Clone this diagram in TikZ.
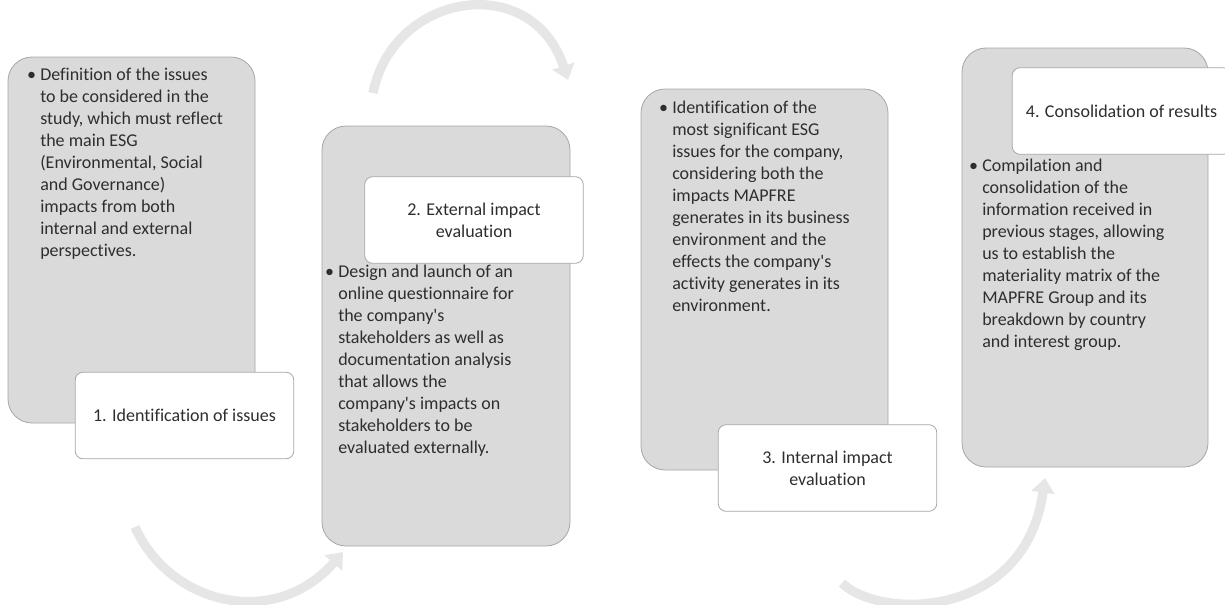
\documentclass[tikz,border=0pt]{standalone}
\usepackage{fontspec}
\setmainfont{Carlito}[Ligatures=NoCommon]
\usetikzlibrary{arrows.meta}
\definecolor{boxfill}{HTML}{DADADA}
\definecolor{boxline}{HTML}{A6A6A6}
\definecolor{arrowgray}{HTML}{E6E6E6}
\definecolor{txt}{HTML}{2E2E2E}
\tikzset{
  x=0.75pt, y=-0.75pt,
  graybox/.style={draw=boxline, line width=0.6pt, fill=boxfill, rounded corners=18pt, inner sep=0pt},
  labelbox/.style={draw=boxline, line width=0.6pt, fill=white, rounded corners=6pt, inner sep=0pt,
    minimum width=164pt, minimum height=65pt, align=center, text=txt},
  bodytext/.style={anchor=north west, inner sep=0pt, align=left, text=txt},
  curvearrow/.style={draw=arrowgray, line width=7pt, -{Triangle[width=17pt,length=11pt]}},
  every node/.style={font=\fontsize{13.5}{16.5}\selectfont}
}
\newcommand{\bul}{\llap{\textbullet\hspace{3.2pt}}}
\newcommand{\ap}{\textquotesingle}
\begin{document}
\begin{tikzpicture}
\useasboundingbox (0,0) rectangle (1225,604);
% curved arrows (behind)
\coordinate (a1s) at (135,527);
\coordinate (a1e) at (343,552);
\coordinate (a2s) at (373,93);
\coordinate (a2e) at (568,80);
\coordinate (a3s) at (842,583);
\coordinate (a3e) at (1045,478);
\draw[curvearrow] (a1s) .. controls (170,605) and (275,630) .. (a1e);
\draw[curvearrow] (a2s) .. controls (393,-8) and (532,-30) .. (a2e);
\draw[curvearrow] (a3s) .. controls (880,620) and (1025,620) .. (a3e);
% gray boxes
\node[graybox, minimum width=185.25pt, minimum height=274.5pt] (b1) at (131.5,240) {};
\node[graybox, minimum width=186pt, minimum height=315pt] (b2) at (446,336) {};
\node[graybox, minimum width=185.25pt, minimum height=285.75pt] (b3) at (764.5,279.5) {};
\node[graybox, minimum width=184.5pt, minimum height=314.25pt] (b4) at (1085,257.5) {};
% body texts
\node[bodytext] (t1) at (40,68) {\bul Definition of the issues\\to be considered in the\\study, which must reflect\\the main ESG\\(Environmental, Social\\and Governance)\\impacts from both\\internal and external\\perspectives.};
\node[bodytext] (t2) at (338,265) {\bul Design and launch of an\\online questionnaire for\\the company\ap s\\stakeholders as well as\\documentation analysis\\that allows the\\company\ap s impacts on\\stakeholders to be\\evaluated externally.};
\node[bodytext] (t3) at (672,101) {\bul Identification of the\\most significant ESG\\issues for the company,\\considering both the\\impacts MAPFRE\\generates in its business\\environment and the\\effects the company\ap s\\activity generates in its\\environment.};
\node[bodytext] (t4) at (982,159) {\bul Compilation and\\consolidation of the\\information received in\\previous stages, allowing\\us to establish the\\materiality matrix of the\\MAPFRE Group and its\\breakdown by country\\and interest group.};
% labels
\node[labelbox] (l1) at (184.5,415.5) {1. Identification of issues};
\node[labelbox] (l2) at (474,220) {2. External impact\\evaluation};
\node[labelbox] (l3) at (827.5,468) {3. Internal impact\\evaluation};
\node[labelbox] (l4) at (1121.5,111) {4. Consolidation of results};
\end{tikzpicture}
\end{document}
